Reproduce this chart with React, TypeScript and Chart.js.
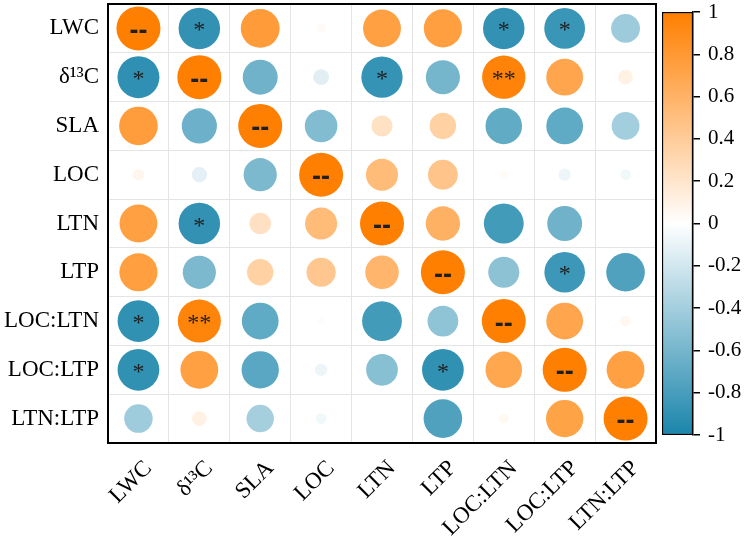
import React, { useEffect, useRef } from 'react';
import { Chart, registerables } from 'chart.js';
Chart.register(...registerables);

const variables = ['LWC', 'δ¹³C', 'SLA', 'LOC', 'LTN', 'LTP', 'LOC:LTN', 'LOC:LTP', 'LTN:LTP'];

const rLWC = [1, -0.89, 0.78, 0.04, 0.74, 0.75, -0.89, -0.86, -0.43];
const rD13C = [-0.91, 1, -0.63, -0.13, -0.88, -0.6, 0.97, 0.7, 0.11];
const rSLA = [0.77, -0.64, 1, -0.55, 0.23, 0.36, -0.69, -0.7, -0.4];
const rLOC = [0.07, -0.12, -0.57, 1, 0.53, 0.46, 0.03, -0.08, -0.06];
const rLTN = [0.74, -0.89, 0.24, 0.53, 1, 0.61, -0.82, -0.63, 0];
const rLTP = [0.75, -0.57, 0.36, 0.44, 0.58, 1, -0.5, -0.85, -0.77];
const rLOCLTN = [-0.9, 0.96, -0.7, -0.02, -0.82, -0.49, 1, 0.7, 0.06];
const rLOCLTP = [-0.9, 0.74, -0.72, -0.08, -0.52, -0.9, 0.69, 1, 0.74];
const rLTNLTP = [-0.42, 0.11, -0.39, -0.06, 0, -0.77, 0.05, 0.72, 1];

const sigLWC = ['--', '*', '', '', '', '', '*', '*', ''];
const sigD13C = ['*', '--', '', '', '*', '', '**', '', ''];
const sigSLA = ['', '', '--', '', '', '', '', '', ''];
const sigLOC = ['', '', '', '--', '', '', '', '', ''];
const sigLTN = ['', '*', '', '', '--', '', '', '', ''];
const sigLTP = ['', '', '', '', '', '--', '', '*', ''];
const sigLOCLTN = ['*', '**', '', '', '', '', '--', '', ''];
const sigLOCLTP = ['*', '', '', '', '', '*', '', '--', ''];
const sigLTNLTP = ['', '', '', '', '', '', '', '', '--'];

const corrRows = [rLWC, rD13C, rSLA, rLOC, rLTN, rLTP, rLOCLTN, rLOCLTP, rLTNLTP];
const sigRows = [sigLWC, sigD13C, sigSLA, sigLOC, sigLTN, sigLTP, sigLOCLTN, sigLOCLTP, sigLTNLTP];

const POS = [255, 127, 0];
const NEG = [26, 133, 171];
const FONT = "'Liberation Serif', 'Times New Roman', serif";
const MAX_R = 22;

function colorFor(v: number): string {
  const a = Math.min(1, Math.abs(v));
  const end = v >= 0 ? POS : NEG;
  const c = end.map((e) => Math.round(255 + (e - 255) * a));
  return `rgb(${c[0]},${c[1]},${c[2]})`;
}

function noPad(s: any) {
  s.paddingTop = 0;
  s.paddingBottom = 0;
  s.paddingLeft = 0;
  s.paddingRight = 0;
}

export default function App() {
  const mainRef = useRef<HTMLCanvasElement | null>(null);
  const barRef = useRef<HTMLCanvasElement | null>(null);

  useEffect(() => {
    const points: any[] = [];
    corrRows.forEach((row, i) => {
      row.forEach((v, j) => {
        points.push({ x: variables[j], y: variables[i], v, s: sigRows[i][j] });
      });
    });

    const annot = {
      id: 'annot',
      afterDatasetsDraw(chart: any) {
        const c = chart.ctx;
        const meta = chart.getDatasetMeta(0);
        c.save();
        c.fillStyle = '#1f1f1f';
        c.textAlign = 'center';
        c.textBaseline = 'alphabetic';
        meta.data.forEach((el: any, k: number) => {
          const s = points[k].s;
          if (!s) return;
          if (s === '--') {
            c.font = `bold 27px 'Liberation Sans', Arial, sans-serif`;
            c.fillText(s, el.x, el.y + 10.5);
          } else {
            c.font = `24px ${FONT}`;
            c.fillText(s, el.x, el.y + 9);
          }
        });
        c.restore();
      },
      afterDraw(chart: any) {
        const { left, top, width, height } = chart.chartArea;
        const c = chart.ctx;
        c.save();
        c.strokeStyle = '#000';
        c.lineWidth = 2;
        c.strokeRect(left, top, width, height);
        c.restore();
      },
    };

    const main = new Chart(mainRef.current as HTMLCanvasElement, {
      type: 'scatter',
      data: {
        datasets: [
          {
            data: points,
            showLine: false,
            pointBackgroundColor: (ctx: any) => colorFor(ctx.raw ? ctx.raw.v : 0),
            pointBorderWidth: 0,
            pointBorderColor: 'rgba(0,0,0,0)',
            pointRadius: (ctx: any) => (ctx.raw ? MAX_R * Math.sqrt(Math.abs(ctx.raw.v)) : 0),
            pointHoverRadius: (ctx: any) => (ctx.raw ? MAX_R * Math.sqrt(Math.abs(ctx.raw.v)) : 0),
          } as any,
        ],
      },
      options: {
        responsive: false,
        animation: false,
        layout: { padding: { top: 4, right: 4, left: 0, bottom: 0 }, autoPadding: false },
        plugins: { legend: { display: false }, tooltip: { enabled: false } },
        scales: {
          x: {
            type: 'category',
            labels: variables,
            offset: true,
            grid: { offset: true, color: '#e4e4e4', drawTicks: false },
            border: { display: false },
            ticks: {
              autoSkip: false,
              minRotation: 45,
              maxRotation: 45,
              padding: 12,
              labelOffset: 10,
              color: '#000',
              font: { family: FONT, size: 23 },
            },
            afterFit: (s: any) => {
              s.height = 99;
              noPad(s);
            },
          },
          y: {
            type: 'category',
            labels: variables,
            offset: true,
            grid: { offset: true, color: '#e4e4e4', drawTicks: false },
            border: { display: false },
            ticks: {
              autoSkip: false,
              padding: 9,
              color: '#000',
              font: { family: FONT, size: 23 },
            },
            afterFit: (s: any) => {
              s.width = 108;
              noPad(s);
            },
          },
        } as any,
      },
      plugins: [annot],
    });

    const bar = new Chart(barRef.current as HTMLCanvasElement, {
      type: 'bar',
      data: {
        labels: [''],
        datasets: [
          {
            data: [[-1, 1]] as any,
            backgroundColor: (ctx: any) => {
              const ch = ctx.chart;
              if (!ch.chartArea) return '#fff';
              const ys = ch.scales.y;
              const g = ch.ctx.createLinearGradient(0, ys.getPixelForValue(1), 0, ys.getPixelForValue(-1));
              g.addColorStop(0, colorFor(1));
              g.addColorStop(0.5, '#ffffff');
              g.addColorStop(1, colorFor(-1));
              return g;
            },
            borderColor: '#000',
            borderWidth: 1.5,
            borderSkipped: false,
            barPercentage: 1,
            categoryPercentage: 1,
          } as any,
        ],
      },
      options: {
        responsive: false,
        animation: false,
        layout: { padding: { top: 12, left: 22, right: 0, bottom: 107 }, autoPadding: false },
        plugins: { legend: { display: false }, tooltip: { enabled: false } },
        scales: {
          x: { display: false },
          y: {
            position: 'right',
            min: -1,
            max: 1,
            grid: { drawOnChartArea: false, color: '#000', tickLength: 7, lineWidth: 1.5 },
            border: { display: true, color: '#000', width: 1.5 },
            ticks: {
              stepSize: 0.2,
              padding: 8,
              color: '#000',
              font: { family: FONT, size: 21 },
              callback: (v: any) => String(Math.round(Number(v) * 10) / 10),
            },
            afterFit: (s: any) => {
              s.width = 52;
              noPad(s);
            },
          },
        } as any,
      },
    });

    return () => {
      main.destroy();
      bar.destroy();
    };
  }, []);

  return (
    <div style={{ position: 'absolute', left: 0, top: 0, width: 745, height: 542, background: '#fff' }}>
      <canvas ref={mainRef} width={660} height={542} style={{ position: 'absolute', left: 0, top: 0 }} />
      <canvas ref={barRef} width={105} height={542} style={{ position: 'absolute', left: 640, top: 0 }} />
    </div>
  );
}
